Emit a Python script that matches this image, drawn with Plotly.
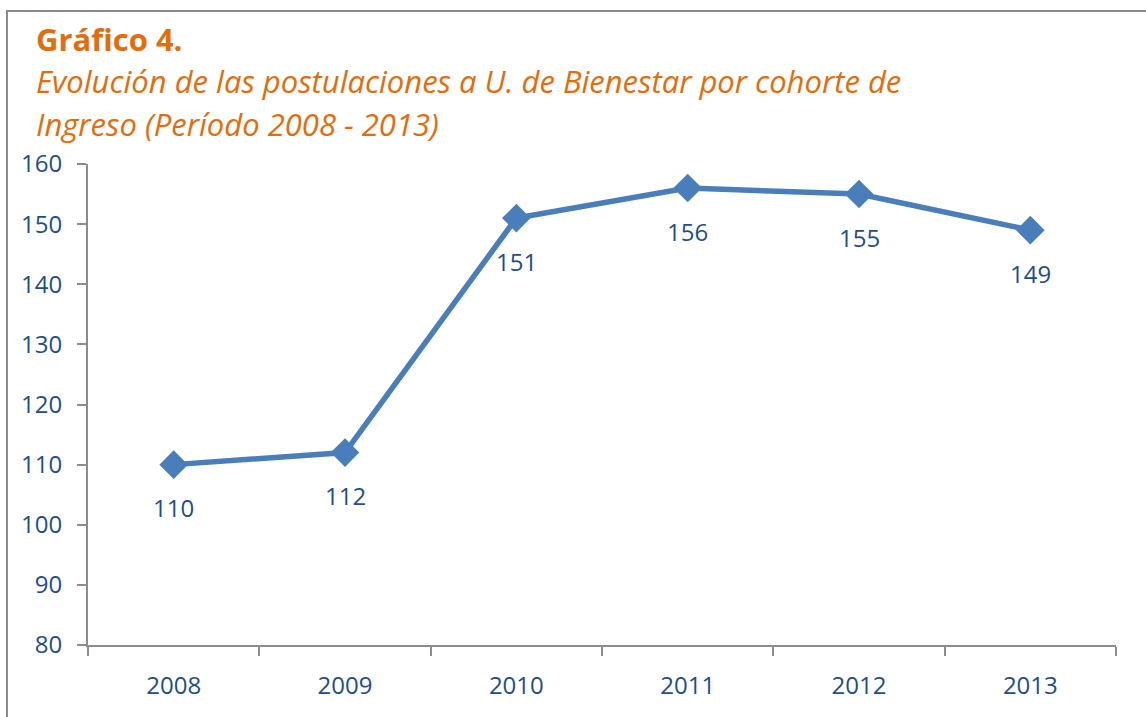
import plotly.graph_objects as go

years = ["2008", "2009", "2010", "2011", "2012", "2013"]
values = [110, 112, 151, 156, 155, 149]
y_ticks = [80, 90, 100, 110, 120, 130, 140, 150, 160]

W, H = 1146, 717
L, R, T, B = 88, 30, 164, 72
pw, ph = W - L - R, H - T - B

def px_x(p):
    return (p - L) / pw

def px_y(p):
    return (H - B - p) / ph

label_color = "#1F4E86"
orange = "#E46C0A"
font_family = "Open Sans, Noto Sans, sans-serif"

fig = go.Figure()
fig.add_trace(go.Scatter(
    x=years, y=values, mode="lines+markers",
    line=dict(color="#4A7EBB", width=5.5),
    marker=dict(symbol="diamond", size=22, color="#4A7EBB"),
    hoverinfo="x+y", showlegend=False,
))

for i, yv in enumerate(values):
    fig.add_annotation(x=i, y=yv, text=str(yv), showarrow=False,
                       yshift=-43, xanchor="center", yanchor="middle",
                       font=dict(size=24, color=label_color, family=font_family))

fig.add_annotation(xref="paper", yref="paper", x=px_x(34), y=px_y(39),
                   text="<b>Gráfico 4.</b>", showarrow=False,
                   xanchor="left", yanchor="middle",
                   font=dict(size=31, color=orange, family=font_family))
fig.add_annotation(xref="paper", yref="paper", x=px_x(34), y=px_y(81),
                   text="<i>Evolución de las postulaciones a U. de Bienestar por cohorte de</i>",
                   showarrow=False, xanchor="left", yanchor="middle",
                   font=dict(size=31, color=orange, family=font_family))
fig.add_annotation(xref="paper", yref="paper", x=px_x(34), y=px_y(124),
                   text="<i>Ingreso (Período 2008 - 2013)</i>",
                   showarrow=False, xanchor="left", yanchor="middle",
                   font=dict(size=31, color=orange, family=font_family))

# outer frame
fig.add_shape(type="rect", xref="paper", yref="paper",
              x0=px_x(7), y0=px_y(730), x1=px_x(1160), y1=px_y(11),
              line=dict(color="#8A8A8A", width=2), fillcolor="rgba(0,0,0,0)",
              layer="below")

fig.update_xaxes(
    type="category", tickson="boundaries", ticks="outside", ticklen=9,
    tickcolor="#8C8C8C", tickwidth=2, showline=True, linecolor="#8C8C8C",
    linewidth=2, showgrid=False, zeroline=False, ticklabelstandoff=18,
    tickfont=dict(size=24, color=label_color, family=font_family),
    range=[-0.5, 5.5],
)
fig.update_yaxes(
    range=[80, 160], tickvals=y_ticks, ticks="outside", ticklen=9,
    tickcolor="#8C8C8C", tickwidth=2, showline=True, linecolor="#8C8C8C",
    linewidth=2, showgrid=False, zeroline=False, ticklabelstandoff=10,
    tickfont=dict(size=24, color=label_color, family=font_family),
)

fig.update_layout(
    width=W, height=H,
    margin=dict(l=L, r=R, t=T, b=B, autoexpand=False),
    plot_bgcolor="white", paper_bgcolor="white",
)

fig.write_html("out.html", config={"displayModeBar": False},
               post_script="document.body.style.margin='0px';")
